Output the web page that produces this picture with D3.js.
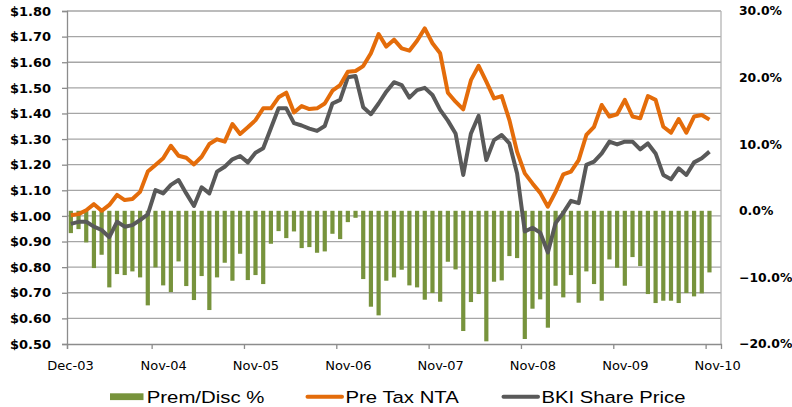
<!DOCTYPE html>
<html>
<head>
<meta charset="utf-8">
<script src="https://cdn.jsdelivr.net/npm/d3@7"></script>
<style>
  body { margin: 0; background: #fff; }
  svg { display: block; }
  .axis text { fill: #000; }
  .y-axis text { font-family: "DejaVu Sans", sans-serif; font-weight: bold; font-size: 13px; }
  .y2-axis text { font-size: 12.4px; }
  .x-axis text { font-family: "DejaVu Sans", sans-serif; font-size: 13px; }
  .legend text { font-family: "Liberation Sans", Arial, sans-serif; font-size: 16.3px; fill: #000; }
</style>
</head>
<body>
<svg id="chart"></svg>
<script>
// Monthly series, Dec-03 .. Nov-10
const startMonth = new Date(2003, 11, 1);

// Prem/Disc % (right axis)
const premDisc = [
  -3.35, -2.75, -4.75, -8.6, -6.6, -11.5, -9.5, -9.65, -9.1, -10.0,
  -14.2, -8.5, -11.2, -12.2, -7.6, -11.3, -13.4, -9.8, -14.9, -10.0,
  -7.8, -10.5, -6.45, -10.4, -9.65, -11.0, -4.95, -3.05, -4.1, -3.1,
  -5.6, -5.45, -6.3, -6.1, -3.45, -4.25, -1.7, -1.05, -10.25, -14.4,
  -15.7, -10.5, -10.0, -8.85, -11.2, -11.5, -13.35, -12.35, -13.65, -7.65,
  -8.8, -18.05, -13.7, -12.5, -19.6, -10.65, -10.45, -6.8, -7.1, -19.25,
  -14.7, -13.3, -17.55, -11.25, -13.0, -9.65, -13.8, -9.1, -11.0, -13.5,
  -7.3, -8.55, -11.25, -6.95, -8.3, -12.5, -13.85, -13.5, -13.5, -13.85,
  -12.35, -12.85, -12.4, -9.25
];

// Pre Tax NTA ($, left axis)
const preTaxNTA = [
  1.003, 1.007, 1.022, 1.046, 1.020, 1.043, 1.082, 1.062, 1.066, 1.094,
  1.173, 1.199, 1.225, 1.274, 1.235, 1.227, 1.201, 1.231, 1.281, 1.299,
  1.290, 1.359, 1.320, 1.346, 1.374, 1.420, 1.420, 1.463, 1.481, 1.404,
  1.429, 1.417, 1.420, 1.439, 1.489, 1.511, 1.563, 1.566, 1.585, 1.635,
  1.710, 1.661, 1.688, 1.654, 1.645, 1.684, 1.732, 1.674, 1.635, 1.481,
  1.446, 1.416, 1.530, 1.586, 1.524, 1.459, 1.468, 1.374, 1.250, 1.166,
  1.127, 1.090, 1.036, 1.094, 1.162, 1.173, 1.218, 1.316, 1.348, 1.433,
  1.388, 1.397, 1.453, 1.388, 1.381, 1.468, 1.453, 1.348, 1.325, 1.378,
  1.325, 1.388, 1.394, 1.376
];

// BKI Share Price ($, left axis)
const sharePrice = [
  0.969, 0.977, 0.977, 0.958, 0.945, 0.917, 0.977, 0.958, 0.964, 0.984,
  1.006, 1.101, 1.088, 1.121, 1.140, 1.088, 1.039, 1.112, 1.088, 1.173,
  1.192, 1.221, 1.234, 1.209, 1.247, 1.264, 1.342, 1.420, 1.420, 1.362,
  1.353, 1.341, 1.332, 1.351, 1.439, 1.453, 1.541, 1.546, 1.424, 1.397,
  1.439, 1.485, 1.522, 1.511, 1.462, 1.491, 1.500, 1.472, 1.414, 1.372,
  1.322, 1.160, 1.322, 1.391, 1.218, 1.296, 1.316, 1.283, 1.166, 0.939,
  0.954, 0.935, 0.857, 0.972, 1.012, 1.059, 1.050, 1.199, 1.212, 1.244,
  1.290, 1.279, 1.290, 1.290, 1.260, 1.283, 1.244, 1.160, 1.143, 1.186,
  1.160, 1.209, 1.225, 1.251
];

// x tick positions (month index) and axis ticks
const xTickMonths = [0, 11, 23, 35, 47, 59, 71, 83];
const leftTicks = [0.5, 0.6, 0.7, 0.8, 0.9, 1.0, 1.1, 1.2, 1.3, 1.4, 1.5, 1.6, 1.7, 1.8];
const rightTicks = [-0.2, -0.1, 0, 0.1, 0.2, 0.3];

const seriesNames = ['Prem/Disc %', 'Pre Tax NTA', 'BKI Share Price'];

class PremDiscChart {

    constructor(_config) {
        this.config = {
            parentElement: _config.parentElement,
            containerWidth: 792,
            containerHeight: 407,
            plot: {left: 67, right: 721, top: 11, bottom: 344},
            barWidth: 4.2,
            colors: {bar: '#77933c', nta: '#e46c0a', price: '#595959', grid: '#a6a6a6', axis: '#8c8c8c'}
        };
        this.initVis();
    }

    initVis() {
        const vis = this;
        const p = vis.config.plot;

        vis.svg = d3.select(vis.config.parentElement)
            .attr('width', vis.config.containerWidth)
            .attr('height', vis.config.containerHeight);

        // one extra month of room on the right, like the source axis
        vis.xScale = d3.scaleLinear().domain([0, 85]).range([p.left, p.right]);
        vis.yLeft = d3.scaleLinear().domain([0.5, 1.8]).range([p.bottom, p.top]);
        vis.yRight = d3.scaleLinear().domain([-0.2, 0.3]).range([p.bottom, p.top]);

        vis.months = premDisc.map((d, i) => d3.timeMonth.offset(startMonth, i));

        vis.gridG = vis.svg.append('g').attr('class', 'grid');
        vis.barG = vis.svg.append('g').attr('class', 'bars');
        vis.lineG = vis.svg.append('g').attr('class', 'lines');
        vis.xAxisG = vis.svg.append('g').attr('class', 'axis x-axis')
            .attr('transform', `translate(0,${p.bottom})`);
        vis.yAxisG = vis.svg.append('g').attr('class', 'axis y-axis')
            .attr('transform', `translate(${p.left},0)`);
        vis.y2AxisG = vis.svg.append('g').attr('class', 'axis y-axis y2-axis')
            .attr('transform', `translate(${p.right},0)`);
        vis.legend = vis.svg.append('g').attr('class', 'legend');

        vis.renderVis();
        vis.renderLegend();
    }

    renderVis() {
        const vis = this;
        const p = vis.config.plot;
        const c = vis.config.colors;

        // horizontal gridlines
        vis.gridG.selectAll('line')
            .data(leftTicks.slice(1))
            .join('line')
            .attr('x1', p.left).attr('x2', p.right)
            .attr('y1', d => vis.yLeft(d)).attr('y2', d => vis.yLeft(d))
            .attr('stroke', c.grid)
            .attr('stroke-width', 1.3);

        vis.gridG.append('line')
            .attr('x1', p.right).attr('x2', p.right)
            .attr('y1', p.top).attr('y2', p.bottom)
            .attr('stroke', '#b4b4b4')
            .attr('stroke-width', 1.3);

        // bars hang from the 0% line
        vis.barG.selectAll('rect')
            .data(premDisc)
            .join('rect')
            .attr('x', (d, i) => vis.xScale(i + 0.5) - vis.config.barWidth / 2)
            .attr('width', vis.config.barWidth)
            .attr('y', d => vis.yRight(Math.max(0, d / 100)))
            .attr('height', d => Math.abs(vis.yRight(d / 100) - vis.yRight(0)))
            .attr('fill', c.bar);

        const line = d3.line()
            .x((d, i) => vis.xScale(i + 0.5))
            .y(d => vis.yLeft(d));

        vis.lineG.selectAll('path')
            .data([{v: sharePrice, color: c.price}, {v: preTaxNTA, color: c.nta}])
            .join('path')
            .attr('d', d => line(d.v))
            .attr('fill', 'none')
            .attr('stroke', d => d.color)
            .attr('stroke-width', 4)
            .attr('stroke-linejoin', 'round');

        // axes
        const fmtMonth = d3.timeFormat('%b-%y');
        vis.xAxisG.call(d3.axisBottom(vis.xScale)
            .tickValues(xTickMonths)
            .tickFormat(i => fmtMonth(vis.months[i]))
            .tickSize(5)
            .tickPadding(12));
        vis.xAxisG.selectAll('.tick text').attr('dx', i => i === 0 ? 3 : 11.5);

        vis.yAxisG.call(d3.axisLeft(vis.yLeft)
            .tickValues(leftTicks)
            .tickFormat(d => '$' + d.toFixed(2))
            .tickSize(5)
            .tickPadding(11));

        vis.y2AxisG.call(d3.axisRight(vis.yRight)
            .tickValues(rightTicks)
            .tickFormat(d3.format('.1%'))
            .tickSize(0)
            .tickPadding(18));
        vis.y2AxisG.select('.domain').remove();

        vis.svg.selectAll('.axis .domain, .axis .tick line')
            .attr('stroke', c.axis)
            .attr('stroke-width', 1.3);
    }

    renderLegend() {
        const vis = this;
        const c = vis.config.colors;
        const items = [
            {name: seriesNames[0], type: 'bar', color: c.bar, x: 110, len: 117.7},
            {name: seriesNames[1], type: 'line', color: c.nta, x: 306, len: 113.3},
            {name: seriesNames[2], type: 'line', color: c.price, x: 502, len: 144}
        ];
        const cy = 396.7;

        const item = vis.legend.selectAll('g')
            .data(items)
            .join('g')
            .attr('transform', d => `translate(${d.x},${cy})`);

        item.filter(d => d.type === 'bar').append('rect')
            .attr('x', 0).attr('y', -3.4)
            .attr('width', 33.5).attr('height', 6.8)
            .attr('fill', d => d.color);

        item.filter(d => d.type === 'line').append('line')
            .attr('x1', 1.5).attr('x2', 36)
            .attr('stroke', d => d.color)
            .attr('stroke-width', 4)
            .attr('stroke-linecap', 'round');

        item.append('text')
            .attr('x', d => d.type === 'bar' ? 36.7 : 39.5)
            .attr('y', 6)
            .attr('textLength', d => d.len)
            .attr('lengthAdjust', 'spacingAndGlyphs')
            .text(d => d.name);
    }
}

new PremDiscChart({parentElement: '#chart'});
</script>
</body>
</html>
